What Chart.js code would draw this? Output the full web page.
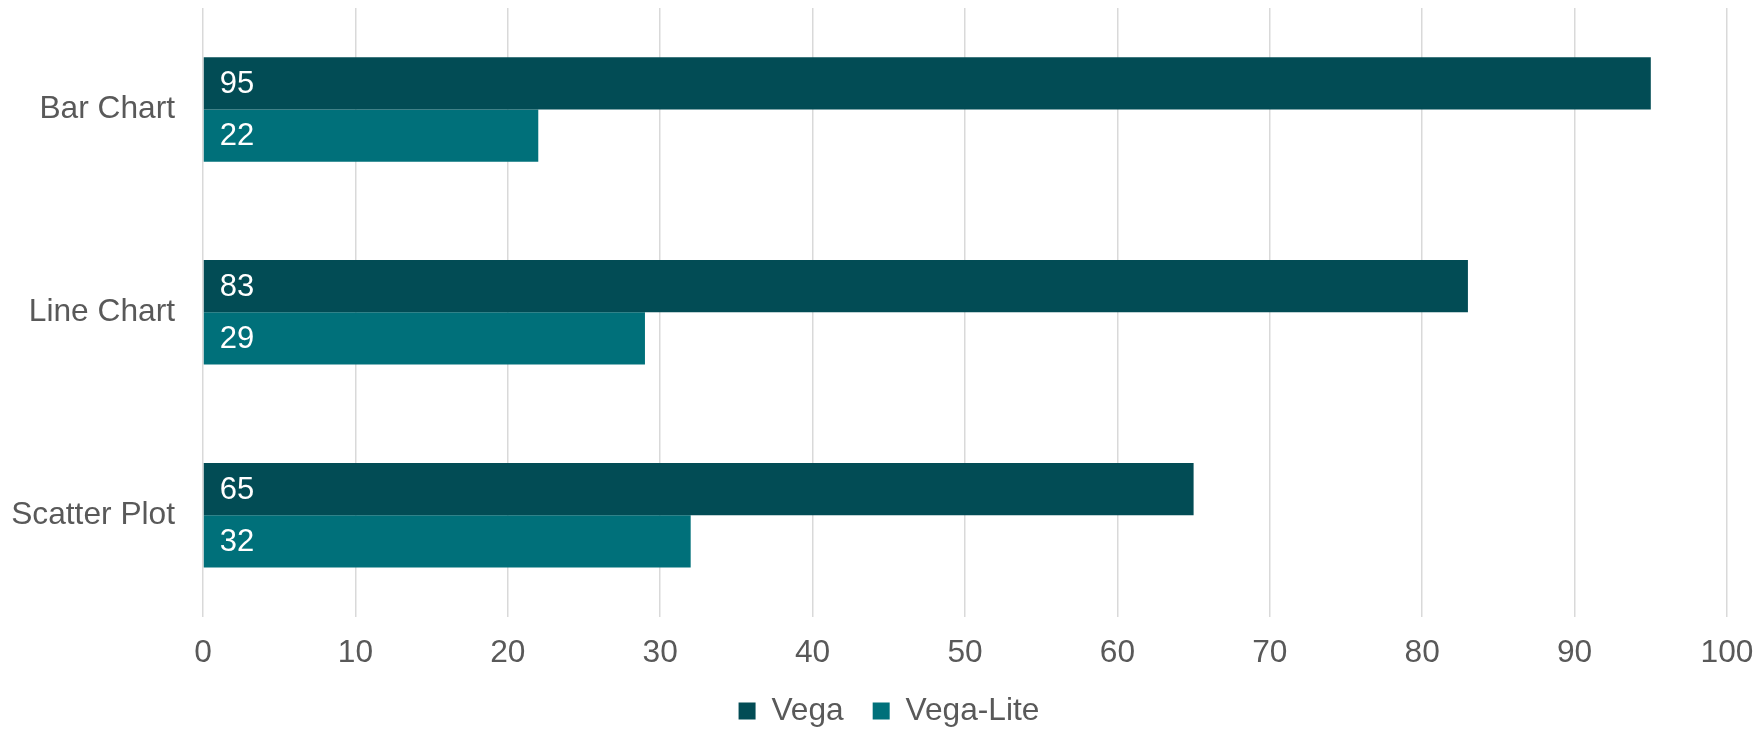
<!DOCTYPE html>
<html>
<head>
<meta charset="utf-8">
<script src="https://cdn.jsdelivr.net/npm/chart.js@4/dist/chart.umd.min.js"></script>
<style>
  html, body { margin: 0; padding: 0; background: #ffffff; }
  #wrap { width: 1754px; height: 730px; position: relative; }
</style>
</head>
<body>
<div id="wrap"><canvas id="c" width="1754" height="730"></canvas></div>
<script>
const categories = ["Bar Chart", "Line Chart", "Scatter Plot"];
const vegaValues = [95, 83, 65];
const vegaLiteValues = [22, 29, 32];
const seriesNames = ["Vega", "Vega-Lite"];
const xTickMin = 0;
const xTickMax = 100;
const xTickStep = 10;

const FONT = "'Liberation Sans', Arial, Helvetica, sans-serif";
const TEXT_COLOR = "#595959";
const FS = 31.7;
const LEGEND_PAD = 29;
const X_AXIS_H = 59;

const dataLabelPlugin = {
  id: "dataLabels",
  afterDatasetsDraw(chart) {
    const ctx = chart.ctx;
    ctx.save();
    ctx.font = "31px " + FONT;
    ctx.fillStyle = "#ffffff";
    ctx.textAlign = "left";
    ctx.textBaseline = "middle";
    chart.data.datasets.forEach((ds, i) => {
      const meta = chart.getDatasetMeta(i);
      meta.data.forEach((el, j) => {
        ctx.fillText(String(ds.data[j]), el.base + 16, el.y + 1);
      });
    });
    ctx.restore();
  }
};

// place the built-in legend like the reference (centred under the plot, near the bottom)
const legendPlacePlugin = {
  id: "legendPlace",
  afterLayout(chart) {
    const lg = chart.legend;
    if (!lg) return;
    const targetTop = 711 - LEGEND_PAD - FS / 2;
    const dy = targetTop - lg.top;
    const dx = 12;
    lg.top += dy; lg.bottom += dy;
    lg.left += dx; lg.right += dx;
  }
};

new Chart(document.getElementById("c"), {
  type: "bar",
  data: {
    labels: categories,
    datasets: [
      { label: seriesNames[0], data: vegaValues, backgroundColor: "#024C55", borderWidth: 0 },
      { label: seriesNames[1], data: vegaLiteValues, backgroundColor: "#00707A", borderWidth: 0 }
    ]
  },
  options: {
    indexAxis: "y",
    responsive: false,
    animation: false,
    devicePixelRatio: 1,
    categoryPercentage: 0.515,
    barPercentage: 1.0,
    layout: { padding: { top: 8, right: 0, left: 0, bottom: -16.3 } },
    scales: {
      x: {
        min: xTickMin,
        max: xTickMax,
        ticks: {
          stepSize: xTickStep,
          font: { family: FONT, size: FS },
          color: TEXT_COLOR,
          padding: 18,
          maxRotation: 0
        },
        grid: { color: "#D9D9D9", lineWidth: 1.5, drawTicks: false },
        border: { display: false },
        afterFit(scale) {
          scale.height = X_AXIS_H;
          scale.paddingRight = 27;
          scale.paddingLeft = 10;
        }
      },
      y: {
        type: "category",
        ticks: {
          font: { family: FONT, size: FS },
          color: TEXT_COLOR,
          padding: 28
        },
        grid: { display: false, drawTicks: false },
        border: { display: false },
        afterFit(scale) {
          scale.width = 203;
          scale.paddingTop = 0;
          scale.paddingBottom = 0;
        }
      }
    },
    plugins: {
      legend: {
        position: "bottom",
        labels: {
          font: { family: FONT, size: FS },
          color: TEXT_COLOR,
          boxWidth: 17,
          boxHeight: 17,
          padding: LEGEND_PAD
        }
      },
      tooltip: { enabled: false }
    }
  },
  plugins: [dataLabelPlugin, legendPlacePlugin]
});
</script>
</body>
</html>
